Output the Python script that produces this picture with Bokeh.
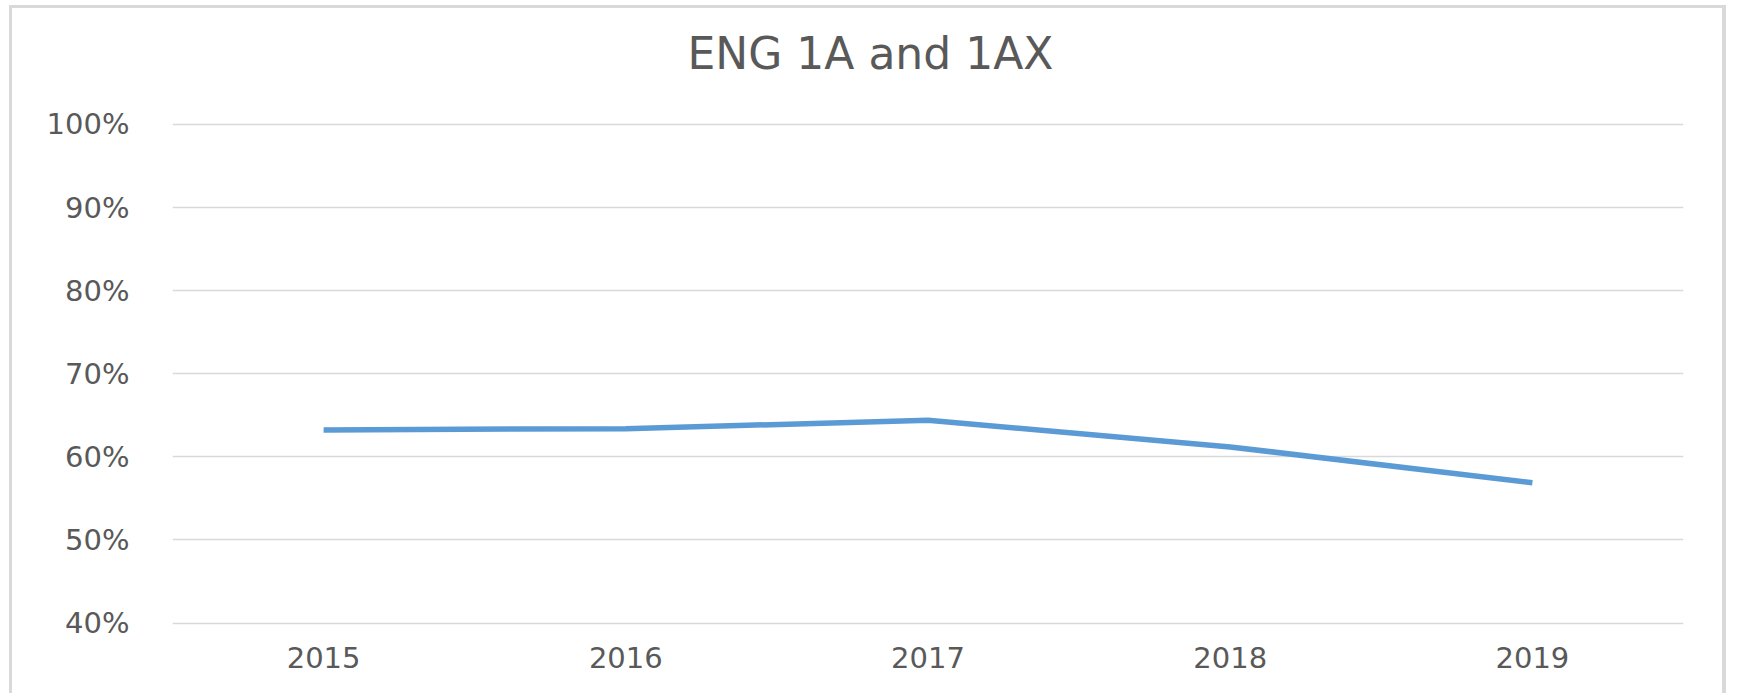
from bokeh.plotting import figure
from bokeh.models import FixedTicker, NumeralTickFormatter, Title, Range1d
from bokeh.embed import file_html
from bokeh.resources import INLINE

# data
years = ["2015", "2016", "2017", "2018", "2019"]
pass_rate = [0.6325, 0.634, 0.644, 0.612, 0.569]
y_ticks = [0.4, 0.5, 0.6, 0.7, 0.8, 0.9, 1.0]
title_text = "ENG 1A and 1AX"

TEXT = "#595959"
GRID = "#d9d9d9"
FONT = "DejaVu Sans"

xs = list(range(len(years)))

p = figure(width=1717, height=688, output_backend="svg", toolbar_location=None,
           x_range=Range1d(-0.5, len(years) - 0.5), y_range=Range1d(0.3971, 1.0024),
           min_border_left=160, min_border_right=46, min_border_top=114,
           min_border_bottom=71)
p.margin = (5, 0, 0, 9)
p.styles = {"border-top": "3px solid #d9d9d9", "border-left": "3px solid #d9d9d9",
            "border-right": "4px solid #d9d9d9"}
p.outline_line_color = None
p.background_fill_color = "white"
p.border_fill_color = "white"

p.line(xs, pass_rate, line_color="#5b9bd5", line_width=5.5, line_join="round", line_cap="butt")

# axes
p.xaxis.ticker = FixedTicker(ticks=xs)
p.xaxis.major_label_overrides = {i: y for i, y in enumerate(years)}
p.yaxis.ticker = FixedTicker(ticks=y_ticks)
p.yaxis.formatter = NumeralTickFormatter(format="0%")
for ax in (p.xaxis, p.yaxis):
    ax.axis_line_color = None
    ax.major_tick_line_color = None
    ax.minor_tick_line_color = None
    ax.major_label_text_color = TEXT
    ax.major_label_text_font = FONT
    ax.major_label_text_font_size = "29px"
p.yaxis.major_label_standoff = 37
p.xaxis.major_label_standoff = 15
p.xgrid.grid_line_color = None
p.ygrid.grid_line_color = GRID
p.ygrid.grid_line_width = 1.6

# chart title (with an empty spacer title between it and the frame)
p.add_layout(Title(text=" ", text_font_size="24px"), "above")
p.add_layout(Title(text=title_text, align="left", offset=515, text_color=TEXT,
                   text_font=FONT, text_font_size="44px", text_font_style="normal"), "above")

open("out.html", "w").write(file_html(p, INLINE))
